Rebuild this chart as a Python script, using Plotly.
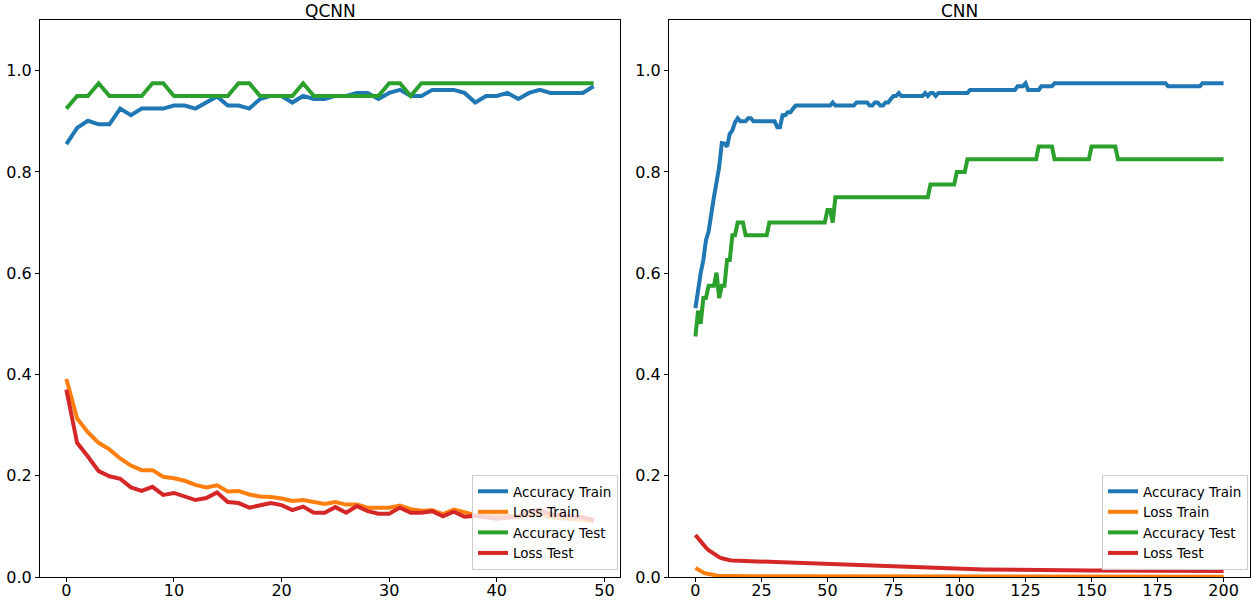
import plotly.graph_objects as go
from plotly.subplots import make_subplots

# ---------------- QCNN (50 epochs) ----------------
qcnn_epochs = list(range(50))
qcnn_acc_train = [0.855, 0.887, 0.901, 0.894, 0.894, 0.925, 0.912, 0.925, 0.925, 0.925,
                  0.931, 0.931, 0.925, 0.937, 0.949, 0.931, 0.931, 0.925, 0.944, 0.950,
                  0.950, 0.937, 0.950, 0.944, 0.944, 0.950, 0.950, 0.956, 0.956, 0.944,
                  0.956, 0.962, 0.950, 0.950, 0.962, 0.962, 0.962, 0.956, 0.937, 0.950,
                  0.950, 0.956, 0.944, 0.956, 0.962, 0.956, 0.956, 0.956, 0.956, 0.969]
qcnn_loss_train = [0.391, 0.313, 0.286, 0.265, 0.252, 0.234, 0.220, 0.211, 0.211, 0.198,
                   0.195, 0.190, 0.182, 0.177, 0.181, 0.169, 0.170, 0.163, 0.159, 0.158,
                   0.155, 0.150, 0.152, 0.147, 0.144, 0.148, 0.143, 0.143, 0.137, 0.137,
                   0.137, 0.141, 0.134, 0.131, 0.132, 0.124, 0.133, 0.128, 0.122, 0.125,
                   0.120, 0.122, 0.118, 0.121, 0.125, 0.118, 0.117, 0.115, 0.113, 0.110]
qcnn_acc_test = [0.925, 0.950, 0.950, 0.975, 0.950, 0.950, 0.950, 0.950, 0.975, 0.975,
                 0.950, 0.950, 0.950, 0.950, 0.950, 0.950, 0.975, 0.975, 0.950, 0.950,
                 0.950, 0.950, 0.975, 0.950, 0.950, 0.950, 0.950, 0.950, 0.950, 0.950,
                 0.975, 0.975, 0.950, 0.975, 0.975, 0.975, 0.975, 0.975, 0.975, 0.975,
                 0.975, 0.975, 0.975, 0.975, 0.975, 0.975, 0.975, 0.975, 0.975, 0.975]
qcnn_loss_test = [0.370, 0.265, 0.238, 0.209, 0.199, 0.194, 0.177, 0.170, 0.178, 0.162,
                  0.166, 0.160, 0.152, 0.156, 0.167, 0.148, 0.146, 0.137, 0.142, 0.146,
                  0.142, 0.132, 0.139, 0.127, 0.127, 0.138, 0.127, 0.140, 0.130, 0.125,
                  0.125, 0.137, 0.127, 0.127, 0.130, 0.120, 0.129, 0.119, 0.121, 0.118,
                  0.115, 0.117, 0.120, 0.130, 0.133, 0.124, 0.122, 0.120, 0.118, 0.112]

# ---------------- CNN (201 epochs) ----------------
cnn_acc_train = [
    0.531, 0.573, 0.600, 0.626, 0.665, 0.682, 0.720, 0.750, 0.780, 0.810,
    0.857, 0.856, 0.850, 0.875, 0.882, 0.898, 0.906, 0.900, 0.900, 0.900,
    0.906, 0.906, 0.900, 0.900, 0.900, 0.900, 0.900, 0.900, 0.900, 0.900,
    0.900, 0.888, 0.888, 0.912, 0.912, 0.918, 0.918, 0.925, 0.931, 0.931,
    0.931, 0.931, 0.931, 0.931, 0.931, 0.931, 0.931, 0.931, 0.931, 0.931,
    0.931, 0.931, 0.937, 0.931, 0.931, 0.931, 0.931, 0.931, 0.931, 0.931,
    0.931, 0.937, 0.937, 0.937, 0.937, 0.937, 0.931, 0.931, 0.937, 0.937,
    0.931, 0.931, 0.937, 0.937, 0.944, 0.950, 0.950, 0.956, 0.950, 0.950,
    0.950, 0.950, 0.950, 0.950, 0.950, 0.950, 0.950, 0.956, 0.950, 0.956,
    0.956, 0.950, 0.956, 0.956, 0.956, 0.956, 0.956, 0.956, 0.956, 0.956,
    0.956, 0.956, 0.956, 0.956, 0.962, 0.962, 0.962, 0.962, 0.962, 0.962,
    0.962, 0.962, 0.962, 0.962, 0.962, 0.962, 0.962, 0.962, 0.962, 0.962,
    0.962, 0.962, 0.969, 0.969, 0.969, 0.975, 0.962, 0.962, 0.962, 0.962,
    0.962, 0.969, 0.969, 0.969, 0.969, 0.969, 0.975, 0.975, 0.975, 0.975,
    0.975, 0.975, 0.975, 0.975, 0.975, 0.975, 0.975, 0.975, 0.975, 0.975,
    0.975, 0.975, 0.975, 0.975, 0.975, 0.975, 0.975, 0.975, 0.975, 0.975,
    0.975, 0.975, 0.975, 0.975, 0.975, 0.975, 0.975, 0.975, 0.975, 0.975,
    0.975, 0.975, 0.975, 0.975, 0.975, 0.975, 0.975, 0.975, 0.975, 0.969,
    0.969, 0.969, 0.969, 0.969, 0.969, 0.969, 0.969, 0.969, 0.969, 0.969,
    0.969, 0.969, 0.975, 0.975, 0.975, 0.975, 0.975, 0.975, 0.975, 0.975,
    0.975]
cnn_loss_train = [
    0.0177, 0.0140, 0.0110, 0.0088, 0.0070, 0.0056, 0.0045, 0.0037, 0.0031, 0.0027,
    0.0024, 0.0022, 0.0020, 0.0019, 0.0018, 0.0017, 0.0016, 0.0016, 0.0015, 0.0015,
    0.0014, 0.0014, 0.0014, 0.0014, 0.0014, 0.0014, 0.0014, 0.0014, 0.0014, 0.0014,
    0.0013, 0.0013, 0.0013, 0.0013, 0.0013, 0.0013, 0.0013, 0.0013, 0.0013, 0.0013,
    0.0013, 0.0013, 0.0013, 0.0013, 0.0013, 0.0013, 0.0013, 0.0013, 0.0013, 0.0013,
    0.0012, 0.0012, 0.0012, 0.0012, 0.0012, 0.0012, 0.0012, 0.0012, 0.0012, 0.0012,
    0.0012, 0.0012, 0.0012, 0.0012, 0.0012, 0.0012, 0.0012, 0.0012, 0.0012, 0.0012,
    0.0011, 0.0011, 0.0011, 0.0011, 0.0011, 0.0011, 0.0011, 0.0011, 0.0011, 0.0011,
    0.0011, 0.0011, 0.0011, 0.0011, 0.0011, 0.0011, 0.0011, 0.0011, 0.0011, 0.0011,
    0.0010, 0.0010, 0.0010, 0.0010, 0.0010, 0.0010, 0.0010, 0.0010, 0.0010, 0.0010,
    0.0010, 0.0010, 0.0010, 0.0010, 0.0010, 0.0010, 0.0010, 0.0010, 0.0010, 0.0010,
    0.0009, 0.0009, 0.0009, 0.0009, 0.0009, 0.0009, 0.0009, 0.0009, 0.0009, 0.0009,
    0.0009, 0.0009, 0.0009, 0.0009, 0.0009, 0.0009, 0.0009, 0.0009, 0.0009, 0.0009,
    0.0009, 0.0009, 0.0009, 0.0009, 0.0009, 0.0009, 0.0009, 0.0009, 0.0009, 0.0009,
    0.0008, 0.0008, 0.0008, 0.0008, 0.0008, 0.0008, 0.0008, 0.0008, 0.0008, 0.0008,
    0.0008, 0.0008, 0.0008, 0.0008, 0.0008, 0.0008, 0.0008, 0.0008, 0.0008, 0.0008,
    0.0008, 0.0008, 0.0008, 0.0008, 0.0008, 0.0008, 0.0008, 0.0008, 0.0008, 0.0008,
    0.0007, 0.0007, 0.0007, 0.0007, 0.0007, 0.0007, 0.0007, 0.0007, 0.0007, 0.0007,
    0.0007, 0.0007, 0.0007, 0.0007, 0.0007, 0.0007, 0.0007, 0.0007, 0.0007, 0.0007,
    0.0007, 0.0007, 0.0007, 0.0007, 0.0007, 0.0007, 0.0007, 0.0007, 0.0007, 0.0007,
    0.0007]
cnn_acc_test = [
    0.475, 0.526, 0.500, 0.551, 0.551, 0.575, 0.575, 0.575, 0.601, 0.551,
    0.575, 0.575, 0.626, 0.626, 0.675, 0.675, 0.700, 0.700, 0.700, 0.675,
    0.675, 0.675, 0.675, 0.675, 0.675, 0.675, 0.675, 0.675, 0.700, 0.700,
    0.700, 0.700, 0.700, 0.700, 0.700, 0.700, 0.700, 0.700, 0.700, 0.700,
    0.700, 0.700, 0.700, 0.700, 0.700, 0.700, 0.700, 0.700, 0.700, 0.700,
    0.725, 0.725, 0.700, 0.750, 0.750, 0.750, 0.750, 0.750, 0.750, 0.750,
    0.750, 0.750, 0.750, 0.750, 0.750, 0.750, 0.750, 0.750, 0.750, 0.750,
    0.750, 0.750, 0.750, 0.750, 0.750, 0.750, 0.750, 0.750, 0.750, 0.750,
    0.750, 0.750, 0.750, 0.750, 0.750, 0.750, 0.750, 0.750, 0.750, 0.775,
    0.775, 0.775, 0.775, 0.775, 0.775, 0.775, 0.775, 0.775, 0.775, 0.800,
    0.800, 0.800, 0.800, 0.825, 0.825, 0.825, 0.825, 0.825, 0.825, 0.825,
    0.825, 0.825, 0.825, 0.825, 0.825, 0.825, 0.825, 0.825, 0.825, 0.825,
    0.825, 0.825, 0.825, 0.825, 0.825, 0.825, 0.825, 0.825, 0.825, 0.825,
    0.850, 0.850, 0.850, 0.850, 0.850, 0.850, 0.825, 0.825, 0.825, 0.825,
    0.825, 0.825, 0.825, 0.825, 0.825, 0.825, 0.825, 0.825, 0.825, 0.825,
    0.850, 0.850, 0.850, 0.850, 0.850, 0.850, 0.850, 0.850, 0.850, 0.850,
    0.825, 0.825, 0.825, 0.825, 0.825, 0.825, 0.825, 0.825, 0.825, 0.825,
    0.825, 0.825, 0.825, 0.825, 0.825, 0.825, 0.825, 0.825, 0.825, 0.825,
    0.825, 0.825, 0.825, 0.825, 0.825, 0.825, 0.825, 0.825, 0.825, 0.825,
    0.825, 0.825, 0.825, 0.825, 0.825, 0.825, 0.825, 0.825, 0.825, 0.825,
    0.825]
cnn_loss_test = [
    0.0830, 0.0760, 0.0690, 0.0630, 0.0580, 0.0530, 0.0490, 0.0450, 0.0420, 0.0390,
    0.0370, 0.0350, 0.0340, 0.0330, 0.0325, 0.0323, 0.0322, 0.0321, 0.0320, 0.0319,
    0.0318, 0.0317, 0.0316, 0.0315, 0.0314, 0.0312, 0.0310, 0.0308, 0.0306, 0.0304,
    0.0302, 0.0300, 0.0297, 0.0294, 0.0291, 0.0288, 0.0285, 0.0282, 0.0280, 0.0277,
    0.0275, 0.0273, 0.0270, 0.0268, 0.0266, 0.0264, 0.0262, 0.0260, 0.0258, 0.0256,
    0.0254, 0.0251, 0.0248, 0.0245, 0.0242, 0.0240, 0.0237, 0.0235, 0.0232, 0.0230,
    0.0228, 0.0225, 0.0223, 0.0220, 0.0218, 0.0216, 0.0214, 0.0212, 0.0210, 0.0208,
    0.0206, 0.0204, 0.0202, 0.0200, 0.0198, 0.0196, 0.0194, 0.0192, 0.0190, 0.0188,
    0.0186, 0.0184, 0.0182, 0.0180, 0.0178, 0.0176, 0.0174, 0.0172, 0.0170, 0.0168,
    0.0166, 0.0165, 0.0164, 0.0163, 0.0162, 0.0161, 0.0160, 0.0159, 0.0158, 0.0157,
    0.0156, 0.0155, 0.0154, 0.0153, 0.0152, 0.0151, 0.0150, 0.0149, 0.0148, 0.0148,
    0.0147, 0.0146, 0.0146, 0.0145, 0.0144, 0.0144, 0.0143, 0.0143, 0.0142, 0.0142,
    0.0141, 0.0141, 0.0140, 0.0140, 0.0139, 0.0139, 0.0139, 0.0138, 0.0138, 0.0138,
    0.0137, 0.0137, 0.0136, 0.0136, 0.0135, 0.0135, 0.0134, 0.0134, 0.0133, 0.0133,
    0.0132, 0.0132, 0.0131, 0.0131, 0.0130, 0.0130, 0.0129, 0.0129, 0.0128, 0.0128,
    0.0127, 0.0127, 0.0127, 0.0126, 0.0126, 0.0126, 0.0125, 0.0125, 0.0125, 0.0124,
    0.0124, 0.0124, 0.0123, 0.0123, 0.0123, 0.0122, 0.0122, 0.0122, 0.0122, 0.0121,
    0.0121, 0.0121, 0.0121, 0.0120, 0.0120, 0.0120, 0.0120, 0.0120, 0.0119, 0.0119,
    0.0119, 0.0119, 0.0119, 0.0119, 0.0118, 0.0118, 0.0118, 0.0118, 0.0118, 0.0118,
    0.0118, 0.0118, 0.0118, 0.0118, 0.0118, 0.0118, 0.0118, 0.0118, 0.0118, 0.0118,
    0.0118]

series_names = ["Accuracy Train", "Loss Train", "Accuracy Test", "Loss Test"]
series_colors = ["#1f77b4", "#ff7f0e", "#2ca02c", "#d62728"]
panel_titles = ["QCNN", "CNN"]
qcnn_ticks = [0, 10, 20, 30, 40, 50]
cnn_ticks = [0, 25, 50, 75, 100, 125, 150, 175, 200]
y_ticks = [0.0, 0.2, 0.4, 0.6, 0.8, 1.0]

W, H = 1253, 600
FONT = "DejaVu Sans"

fig = make_subplots(rows=1, cols=2)

qcnn_series = [qcnn_acc_train, qcnn_loss_train, qcnn_acc_test, qcnn_loss_test]
cnn_series = [cnn_acc_train, cnn_loss_train, cnn_acc_test, cnn_loss_test]

for name, color, ys in zip(series_names, series_colors, qcnn_series):
    fig.add_trace(go.Scatter(x=list(range(len(ys))), y=ys, mode="lines", name=name,
                             line=dict(color=color, width=4), legend="legend"),
                  row=1, col=1)
for name, color, ys in zip(series_names, series_colors, cnn_series):
    fig.add_trace(go.Scatter(x=list(range(len(ys))), y=ys, mode="lines", name=name,
                             line=dict(color=color, width=4), legend="legend2"),
                  row=1, col=2)

# axes geometry (pixels -> paper fractions)
x1_dom = [40 / W, 620 / W]
x2_dom = [669 / W, 1250 / W]
y_dom = [(H - 577) / H, (H - 20) / H]

axis_common = dict(showgrid=False, zeroline=False, showline=True, mirror=True,
                   linecolor="black", linewidth=1, ticks="outside", ticklen=4,
                   tickwidth=1, tickcolor="black",
                   tickfont=dict(family=FONT, size=16, color="black"))

fig.update_xaxes(domain=x1_dom, range=[-2.45, 51.45], tickvals=qcnn_ticks,
                 ticklabelstandoff=-5, row=1, col=1, **axis_common)
fig.update_xaxes(domain=x2_dom, range=[-10, 210], tickvals=cnn_ticks,
                 ticklabelstandoff=-5, row=1, col=2, **axis_common)
fig.update_yaxes(domain=y_dom, range=[0, 1.1], tickvals=y_ticks, tickformat=".1f",
                 row=1, col=1, **axis_common)
fig.update_yaxes(domain=y_dom, range=[0, 1.1], tickvals=y_ticks, tickformat=".1f",
                 row=1, col=2, **axis_common)

legend_common = dict(bgcolor="rgba(255,255,255,0.8)", bordercolor="#cccccc", borderwidth=1,
                     font=dict(family=FONT, size=13.5, color="black"),
                     xanchor="right", yanchor="bottom", itemwidth=30,
                     tracegroupgap=0)

fig.update_layout(
    width=W, height=H,
    margin=dict(l=0, r=0, t=0, b=0, autoexpand=False),
    paper_bgcolor="white", plot_bgcolor="white",
    font=dict(family=FONT, color="black"),
    showlegend=True,
    legend=dict(x=618 / W, y=(H - 570) / H, **legend_common),
    legend2=dict(x=1248 / W, y=(H - 570) / H, **legend_common),
)

for title, dom in zip(panel_titles, [x1_dom, x2_dom]):
    fig.add_annotation(text=title, xref="paper", yref="paper",
                       x=(dom[0] + dom[1]) / 2, y=(H - 11) / H,
                       xanchor="center", yanchor="middle", showarrow=False,
                       font=dict(family=FONT, size=17, color="black"))

fig.write_html("out.html")
